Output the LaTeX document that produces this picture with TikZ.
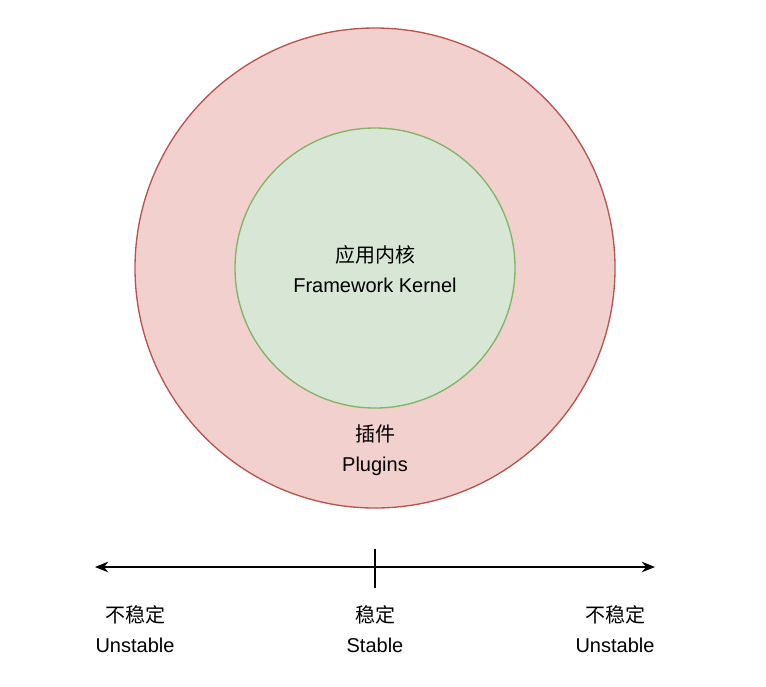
\documentclass[tikz,border=0pt]{standalone}
\usepackage{fontspec}
\setmainfont{Liberation Sans}
\newfontfamily\cjk{Noto Sans CJK SC}
\usetikzlibrary{arrows.meta}
\definecolor{outerfill}{HTML}{F2D0CE}
\definecolor{outerline}{HTML}{B85450}
\definecolor{innerfill}{HTML}{D8E6D6}
\definecolor{innerline}{HTML}{82B366}
\tikzset{
  lbl/.style={align=center, font=\fontsize{15}{22}\selectfont},
}
\begin{document}
\begin{tikzpicture}[x=0.75pt, y=-0.75pt]
  \useasboundingbox (0,0) rectangle (766,686);

  \node (plugins) [circle, minimum size=480*0.75pt, fill=outerfill, draw=outerline, line width=1pt] at (375,268) {};
  \node (kernel) [circle, minimum size=280*0.75pt, fill=innerfill, draw=innerline, line width=1pt] at (375,268) {};
  \node (kernellbl) [lbl] at (375,269) {{\cjk 应用内核}\\Framework Kernel};
  \node (pluginslbl) [lbl] at (375,450) {{\cjk 插件}\\Plugins};

  \coordinate (left) at (95,567);
  \coordinate (right) at (655,567);
  \coordinate (tickt) at (375,549);
  \coordinate (tickb) at (375,588);
  \draw[line width=1pt, {Stealth[length=10pt,width=8pt]}-{Stealth[length=10pt,width=8pt]}] (left) -- (right);
  \draw[line width=1pt] (tickt) -- (tickb);

  \node (unstl) [lbl] at (135,629) {{\cjk 不稳定}\\Unstable};
  \node (stable) [lbl] at (375,629) {{\cjk 稳定}\\Stable};
  \node (unstr) [lbl] at (615,629) {{\cjk 不稳定}\\Unstable};
\end{tikzpicture}
\end{document}
